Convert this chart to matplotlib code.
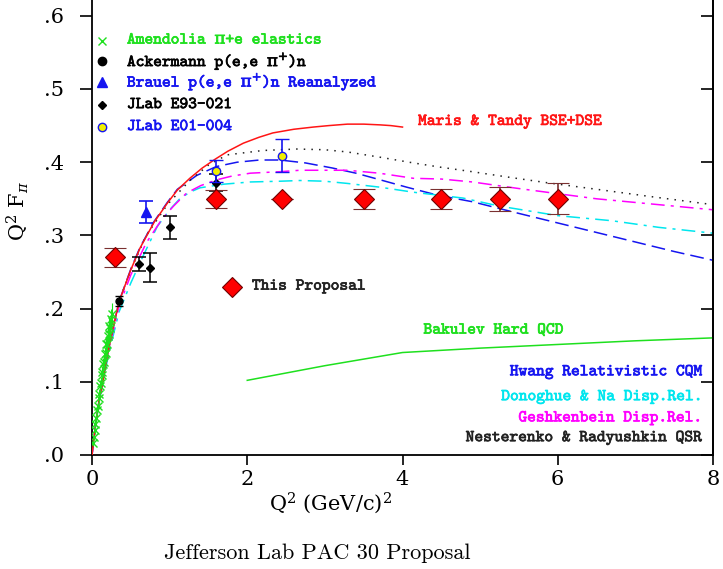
import matplotlib
matplotlib.use('Agg')
import matplotlib.pyplot as plt
import matplotlib.patheffects as pe
from matplotlib.ticker import FuncFormatter

plt.rcParams['mathtext.fontset'] = 'dejavuserif'

# --- measured data ---
amend_q2 = [0.015, 0.025, 0.035, 0.045, 0.055, 0.065, 0.075, 0.085, 0.095, 0.105,
            0.115, 0.125, 0.135, 0.145, 0.155, 0.165, 0.175, 0.185, 0.195, 0.205,
            0.215, 0.225, 0.235, 0.245, 0.253]
amend_f = [0.016, 0.024, 0.034, 0.043, 0.051, 0.061, 0.067, 0.078, 0.083, 0.094,
           0.099, 0.109, 0.113, 0.124, 0.127, 0.138, 0.140, 0.151, 0.152, 0.163,
           0.165, 0.176, 0.174, 0.186, 0.192]
amend_err = [0.004, 0.004, 0.005, 0.005, 0.006, 0.006, 0.006, 0.007, 0.007, 0.008,
             0.008, 0.008, 0.009, 0.009, 0.010, 0.010, 0.011, 0.011, 0.012, 0.012,
             0.013, 0.013, 0.014, 0.014, 0.015]

acker_q2 = [0.35]
acker_f = [0.210]
acker_err = [0.007]

brauel_q2 = [0.70]
brauel_f = [0.332]
brauel_err = [0.015]

e93_q2 = [0.60, 0.75, 1.00, 1.60]
e93_f = [0.261, 0.256, 0.311, 0.372]
e93_err = [0.010, 0.020, 0.016, 0.012]

e01_q2 = [1.60, 2.45]
e01_f = [0.388, 0.409]
e01_err = [0.015, 0.023]

prop_q2 = [0.30, 1.60, 2.45, 3.50, 4.50, 5.25, 6.00]
prop_f = [0.270, 0.350, 0.350, 0.350, 0.350, 0.350, 0.350]
prop_err = [0.013, 0.012, 0.0, 0.0137, 0.0137, 0.016, 0.021]

# --- model curves ---
maris_q2 = [0.0, 0.05, 0.1, 0.14, 0.18, 0.27, 0.35, 0.5, 0.62, 0.8, 0.97, 1.1, 1.26, 1.42,
            1.585, 1.75, 1.95, 2.15, 2.33, 2.6, 2.85, 3.05, 3.29, 3.5, 3.71, 3.85, 4.0]
maris_f = [0.0, 0.045, 0.080, 0.100, 0.127, 0.173, 0.210, 0.253, 0.283, 0.318, 0.344, 0.362,
           0.378, 0.392, 0.404, 0.415, 0.426, 0.434, 0.440, 0.445, 0.448, 0.450, 0.452,
           0.452, 0.451, 0.450, 0.448]

hwang_q2 = [0.0, 0.05, 0.1, 0.14, 0.18, 0.27, 0.35, 0.5, 0.62, 0.8, 0.97, 1.1, 1.35, 1.6,
            1.87, 2.16, 2.42, 2.75, 3.1, 3.4, 3.71, 4.05, 4.45, 4.9, 5.5, 6.0, 6.5, 7.0,
            7.5, 8.0]
hwang_f = [0.0, 0.045, 0.080, 0.100, 0.127, 0.173, 0.210, 0.254, 0.284, 0.319, 0.345, 0.363,
           0.382, 0.394, 0.400, 0.403, 0.403, 0.399, 0.392, 0.385, 0.376, 0.366, 0.355,
           0.346, 0.330, 0.317, 0.304, 0.291, 0.278, 0.266]

qsr_q2 = [0.0, 0.05, 0.1, 0.18, 0.27, 0.35, 0.5, 0.7, 0.97, 1.26, 1.5, 1.74, 2.2, 2.64,
          3.0, 3.29, 3.7, 4.14, 4.5, 4.9, 5.4, 5.86, 6.5, 7.2, 8.0]
qsr_f = [0.0, 0.045, 0.080, 0.127, 0.173, 0.210, 0.253, 0.300, 0.342, 0.375, 0.396, 0.410,
         0.416, 0.418, 0.417, 0.414, 0.407, 0.399, 0.393, 0.387, 0.379, 0.372, 0.363,
         0.353, 0.342]

gesh_q2 = [0.0, 0.05, 0.1, 0.18, 0.27, 0.35, 0.5, 0.7, 0.9, 1.05, 1.22, 1.4, 1.61, 1.8,
           2.04, 2.42, 2.68, 3.0, 3.29, 3.7, 4.14, 4.5, 4.9, 5.5, 6.0, 6.5, 7.0, 7.5, 8.0]
gesh_f = [0.0, 0.044, 0.078, 0.124, 0.168, 0.204, 0.246, 0.290, 0.322, 0.340, 0.358, 0.368,
          0.376, 0.381, 0.385, 0.387, 0.389, 0.389, 0.389, 0.385, 0.378, 0.377, 0.373,
          0.364, 0.357, 0.350, 0.345, 0.340, 0.335]

dono_q2 = [0.0, 0.05, 0.1, 0.18, 0.27, 0.35, 0.5, 0.65, 0.84, 1.0, 1.13, 1.26, 1.39, 1.7,
           2.04, 2.42, 2.68, 3.0, 3.29, 3.7, 4.14, 4.78, 5.25, 6.0, 6.7, 7.3, 8.0]
dono_f = [0.0, 0.044, 0.077, 0.121, 0.162, 0.196, 0.235, 0.270, 0.312, 0.335, 0.350, 0.359,
          0.365, 0.370, 0.373, 0.374, 0.375, 0.374, 0.371, 0.366, 0.359, 0.351, 0.340,
          0.327, 0.320, 0.311, 0.303]

bak_q2 = [2.0, 2.5, 3.0, 3.5, 4.0, 5.0, 6.0, 7.0, 8.0]
bak_f = [0.102, 0.112, 0.122, 0.131, 0.140, 0.146, 0.151, 0.156, 0.160]

green = '#1ee01e'
blue = '#1515f0'
cyan = '#00e6ee'
magenta = '#ff00ff'
red = '#ff1515'
mono = ['cmtt10', 'DejaVu Sans Mono']


def label(ax, x, y, s, color, **kw):
    t = ax.text(x, y, s, color=color, family=mono, fontsize=12, va='center', **kw)
    t.set_path_effects([pe.withStroke(linewidth=0.5, foreground=color)])
    return t


fig = plt.figure(figsize=(7.23, 5.69), dpi=100)
ax = fig.add_axes([92/723, 114/569, 621/723, 455/569])
ax.set_xlim(0, 8)
ax.set_ylim(0, 455/732)

# theory curves
ax.plot(hwang_q2, hwang_f, color=blue, lw=1.1, dashes=(9, 4), zorder=2)
ax.plot(dono_q2, dono_f, color=cyan, lw=1.1, dashes=(9, 4, 2, 4), zorder=2)
ax.plot(gesh_q2, gesh_f, color=magenta, lw=1.1, dashes=(9, 4, 2, 4), zorder=2)
ax.plot(qsr_q2, qsr_f, color='#222222', lw=1.1, dashes=(1, 4), zorder=2)
ax.plot(maris_q2, maris_f, color=red, lw=1.1, zorder=3)
ax.plot(bak_q2, bak_f, color=green, lw=1.1, zorder=2)

# data
ax.errorbar(amend_q2, amend_f, yerr=amend_err, fmt='x', color=green, ms=6, mew=1.0,
            elinewidth=0.8, zorder=4)
ax.errorbar(acker_q2, acker_f, yerr=acker_err, fmt='o', color='black', ms=5,
            elinewidth=1.0, capsize=3, zorder=5)
ax.errorbar(brauel_q2, brauel_f, yerr=brauel_err, fmt='^', color=blue, ms=7,
            elinewidth=1.2, capsize=5, capthick=1.2, zorder=5)
ax.errorbar(e93_q2, e93_f, yerr=e93_err, fmt='D', color='black', ms=4.5,
            elinewidth=1.1, capsize=5, capthick=1.1, zorder=5)
ax.errorbar(e01_q2, e01_f, yerr=e01_err, fmt='o', mfc='#f0f000', mec=blue, ecolor=blue,
            ms=6, mew=1.0, elinewidth=1.2, capsize=5, capthick=1.2, zorder=6)
ax.errorbar(prop_q2, prop_f, yerr=prop_err, fmt='D', mfc='#ff0000', mec='#700000',
            ecolor='#7a3030', ms=10, mew=0.8, elinewidth=1.2, capsize=8, capthick=2.0,
            zorder=7)

# legend, top left
leg_y = [0.566, 0.538, 0.510, 0.478, 0.448]
ax.plot(0.13, leg_y[0], 'x', color=green, ms=6, mew=1.0)
ax.plot(0.13, leg_y[1], 'o', color='black', ms=6)
ax.plot(0.13, leg_y[2], '^', color=blue, ms=7)
ax.plot(0.13, leg_y[3], 'D', color='black', ms=4.5)
ax.plot(0.13, leg_y[4], 'o', mfc='#f0f000', mec=blue, ms=6)
label(ax, 0.45, leg_y[0], 'Amendolia $\\mathrm{\\pi}$+e elastics', green)
label(ax, 0.45, leg_y[1], 'Ackermann p(e,e $\\mathrm{\\pi}^{+}$)n', 'black')
label(ax, 0.45, leg_y[2], 'Brauel p(e,e $\\mathrm{\\pi}^{+}$)n Reanalyzed', blue)
label(ax, 0.45, leg_y[3], 'JLab E93-021', 'black')
label(ax, 0.45, leg_y[4], 'JLab E01-004', blue)

ax.plot(1.8, 0.23, 'D', mfc='#ff0000', mec='#700000', ms=10, mew=0.8)
label(ax, 2.06, 0.23, 'This Proposal', '#222222')

label(ax, 4.2, 0.455, 'Maris & Tandy BSE+DSE', red)
label(ax, 4.27, 0.170, 'Bakulev Hard QCD', green)
right_labels = [
    ('Hwang Relativistic CQM', blue, 0.113),
    ('Donoghue & Na Disp.Rel.', cyan, 0.079),
    ('Geshkenbein Disp.Rel.', magenta, 0.050),
    ('Nesterenko & Radyushkin QSR', '#222222', 0.023),
]
for s, c, yy in right_labels:
    label(ax, 7.86, yy, s, c, ha='right')

# axes styling
ax.spines['top'].set_visible(False)
for s in ('left', 'right', 'bottom'):
    ax.spines[s].set_linewidth(1.3)
ax.set_xticks([0, 2, 4, 6, 8])
ax.set_yticks([0.0, 0.1, 0.2, 0.3, 0.4, 0.5, 0.6])
ax.yaxis.set_major_formatter(FuncFormatter(lambda v, p: ('%.1f' % v)[1:]))
ax.tick_params(axis='x', direction='out', length=7, width=1.2, labelsize=15, pad=4)
ax.tick_params(axis='y', direction='out', length=9, width=1.2, labelsize=15, pad=11)
for lab in ax.get_xticklabels() + ax.get_yticklabels():
    lab.set_family('DejaVu Serif')

rax = ax.secondary_yaxis('right')
rax.set_yticks([0.0, 0.1, 0.2, 0.3, 0.4, 0.5, 0.6])
rax.tick_params(direction='in', length=9, width=1.2, labelright=False)
rax.spines['right'].set_linewidth(1.3)

fig.text(330/723, 1 - 503/569, 'Q$^2$ (GeV/c)$^2$', ha='center', va='center',
         fontsize=15, family='DejaVu Serif')
fig.text(18/723, 1 - 211/569, 'Q$^2$ F$_\\pi$', ha='center', va='center',
         fontsize=15, family='DejaVu Serif', rotation=90)
fig.text(317/723, 1 - 553/569, 'Jefferson Lab PAC 30 Proposal', ha='center',
         va='center', fontsize=16, family='cmr10')

fig.savefig('out.png', dpi=100)
